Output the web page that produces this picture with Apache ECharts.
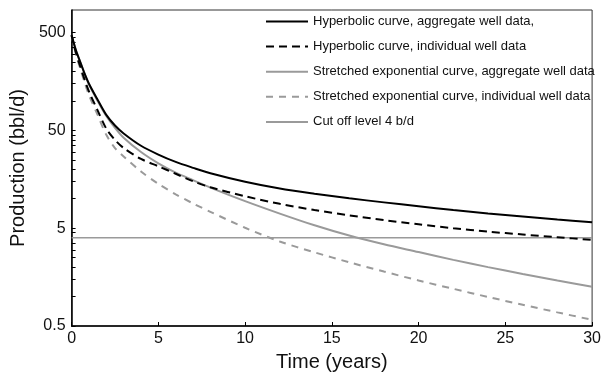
<!DOCTYPE html>
<html>
<head>
<meta charset="utf-8">
<script src="https://cdn.jsdelivr.net/npm/echarts@6/dist/echarts.min.js"></script>
<style>
  html, body { margin: 0; padding: 0; background: #fff; }
  #chart { width: 604px; height: 377px; }
</style>
</head>
<body>
<div id="chart"></div>
<script>
// Time axis (years) shared by all decline curves
const years = [0, 0.25, 0.5, 0.75, 1, 1.5, 2, 2.5, 3, 4, 5, 6, 7, 8, 10, 12, 14, 16, 18, 20, 22, 24, 26, 28, 30];

// Production rates (bbl/d)
const hyperbolicAggregate  = [470, 330, 250, 190, 150, 103, 72, 56, 46.5, 34.8, 28.3, 23.8, 20.7, 18.2, 14.9, 12.7, 11.25, 10.1, 9.18, 8.37, 7.67, 7.08, 6.58, 6.14, 5.75];
const hyperbolicIndividual = [470, 310, 225, 165, 125, 80, 52, 40, 33, 25.5, 21.5, 18, 15.1, 13.1, 10.6, 8.87, 7.66, 6.76, 6.05, 5.47, 4.99, 4.61, 4.31, 4.04, 3.8];
const stretchedAggregate   = [470, 330, 250, 190, 148, 100, 70, 53, 42, 30, 23, 18.5, 15.5, 13.0, 9.45, 7.05, 5.35, 4.2, 3.42, 2.85, 2.37, 2.0, 1.70, 1.46, 1.26];
const stretchedIndividual  = [470, 300, 215, 155, 115, 72, 45, 33, 27, 19, 14.2, 11.1, 8.95, 7.35, 5.05, 3.65, 2.83, 2.24, 1.80, 1.46, 1.20, 0.99, 0.824, 0.689, 0.578];

// Economic cut-off rate
const cutoffRate = 4;
const cutoffSpan = [0, 30];

// Axis tick labels
const xTicks = [0, 5, 10, 15, 20, 25, 30];
const yLabels = [0.5, 5, 50, 500];
const yMinorSteps = [2, 3, 4, 5, 6, 7, 8, 9];

const seriesNames = [
  'Hyperbolic curve, aggregate well data,',
  'Hyperbolic curve, individual well data',
  'Stretched exponential curve, aggregate well data',
  'Stretched exponential curve, individual well data',
  'Cut off level 4 b/d'
];

// major ticks plus the in-between decade ticks (1, 1.5, 2 ... of each decade)
const yTickValues = [];
yLabels.forEach(function (base) {
  yTickValues.push(base);
  yMinorSteps.forEach(function (k) { yTickValues.push(base * k); });
});

function pairs(ys) { return years.map(function (t, i) { return [t, ys[i]]; }); }

const FONT = 'Liberation Sans, Arial, Helvetica, sans-serif';
const GREY = '#9a9a9a';

const chart = echarts.init(document.getElementById('chart'), null, { renderer: 'canvas' });

chart.setOption({
  animation: false,
  backgroundColor: '#fff',
  grid: {
    left: 67, right: 8, top: 10, bottom: 48,
    show: true, borderColor: '#333', borderWidth: 1
  },
  legend: {
    orient: 'vertical',
    left: 265, top: 15, padding: 0,
    itemWidth: 42, itemHeight: 14, itemGap: 12.1,
    itemStyle: { opacity: 0 },
    textStyle: { fontFamily: FONT, fontSize: 13, color: '#111' },
    data: seriesNames
  },
  xAxis: {
    type: 'value',
    min: 0, max: 30, interval: 5,
    name: 'Time (years)',
    nameLocation: 'middle', nameGap: 26,
    nameTextStyle: { fontFamily: FONT, fontSize: 20, color: '#111' },
    axisLine: { lineStyle: { color: '#000', width: 1.5 } },
    axisTick: { inside: true, length: 4, lineStyle: { color: '#000' }, customValues: xTicks },
    axisLabel: { fontFamily: FONT, fontSize: 16, color: '#111', margin: 5, customValues: xTicks },
    splitLine: { show: false }
  },
  yAxis: {
    type: 'log', logBase: 10,
    min: 0.5, max: 850,
    name: 'Production (bbl/d)',
    nameLocation: 'middle', nameGap: 39, nameRotate: 90,
    nameTextStyle: { fontFamily: FONT, fontSize: 20, color: '#111' },
    axisLine: { show: true, lineStyle: { color: '#000', width: 1.5 } },
    axisTick: { show: true, inside: true, length: 4, lineStyle: { color: '#000' }, customValues: yTickValues },
    axisLabel: {
      fontFamily: FONT, fontSize: 16, color: '#111', margin: 6,
      customValues: yLabels,
      formatter: function (v) { return String(v); }
    },
    splitLine: { show: false },
    minorTick: { show: false }
  },
  series: [
    {
      name: seriesNames[0], type: 'line', data: pairs(hyperbolicAggregate),
      smooth: 0.3, showSymbol: false, symbol: 'none',
      lineStyle: { color: '#000', width: 2 }, itemStyle: { color: '#000' }, z: 5
    },
    {
      name: seriesNames[1], type: 'line', data: pairs(hyperbolicIndividual),
      smooth: 0.3, showSymbol: false, symbol: 'none',
      lineStyle: { color: '#000', width: 2, type: [8, 5] }, itemStyle: { color: '#000' }, z: 5
    },
    {
      name: seriesNames[2], type: 'line', data: pairs(stretchedAggregate),
      smooth: 0.3, showSymbol: false, symbol: 'none',
      lineStyle: { color: GREY, width: 2 }, itemStyle: { color: GREY }, z: 4
    },
    {
      name: seriesNames[3], type: 'line', data: pairs(stretchedIndividual),
      smooth: 0.3, showSymbol: false, symbol: 'none',
      lineStyle: { color: GREY, width: 2, type: [7, 6] }, itemStyle: { color: GREY }, z: 4
    },
    {
      name: seriesNames[4], type: 'line',
      data: cutoffSpan.map(function (t) { return [t, cutoffRate]; }),
      showSymbol: false, symbol: 'none',
      lineStyle: { color: GREY, width: 1.5 }, itemStyle: { color: GREY }, z: 3
    }
  ]
});
</script>
</body>
</html>
